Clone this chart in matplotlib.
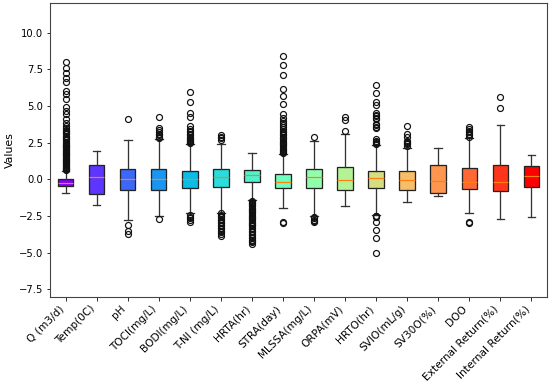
import numpy as np
import matplotlib
matplotlib.use('Agg')
import matplotlib.pyplot as plt

labels = ['Q (m3/d)', 'Temp(0C)', 'pH', 'TOCI(mg/L)', 'BODI(mg/L)', 'T-NI (mg/L)',
          'HRTA(hr)', 'STRA(day)', 'MLSSA(mg/L)', 'ORPA(mV)', 'HRTO(hr)', 'SVIO(mL/g)',
          'SV30O(%)', 'DOO', 'External Return(%)', 'Internal Return(%)']

med = [-0.27, 0.14, 0.04, 0.04, 0.0, 0.14, 0.27, -0.18, 0.14, -0.05, 0.07, -0.05, -0.14, -0.16, -0.18, 0.25]
q1 = [-0.46, -0.98, -0.75, -0.70, -0.61, -0.50, -0.20, -0.57, -0.57, -0.71, -0.61, -0.73, -0.91, -0.68, -0.82, -0.55]
q3 = [0.0, 0.95, 0.68, 0.68, 0.59, 0.70, 0.65, 0.36, 0.72, 0.86, 0.59, 0.55, 0.95, 0.79, 1.0, 0.89]
whislo = [-0.91, -1.77, -2.80, -2.50, -2.32, -2.27, -1.40, -1.93, -2.50, -1.82, -2.43, -1.55, -1.14, -2.27, -2.70, -2.59]
whishi = [0.55, 1.93, 2.68, 2.73, 2.40, 2.40, 1.79, 1.70, 2.61, 3.07, 2.34, 2.11, 2.11, 2.79, 3.72, 1.64]

fliers = [
    # Q
    [0.62, 0.68, 0.74, 0.8, 0.86, 0.92, 0.98, 1.04, 1.1, 1.16, 1.22, 1.28, 1.34, 1.4, 1.46,
     1.52, 1.58, 1.64, 1.7, 1.76, 1.82, 1.88, 1.94, 2.0, 2.06, 2.12, 2.18, 2.24, 2.3, 2.36,
     2.42, 2.5, 2.58, 2.66, 2.74, 2.82, 2.9, 2.98, 3.06, 3.14, 3.22, 3.3, 3.35, 3.5, 3.62,
     3.86, 4.09, 4.43, 4.68, 4.91, 5.45, 5.81, 6.02, 6.65, 6.88, 7.23, 7.61, 8.02],
    # Temp
    [],
    # pH
    [4.09, -3.12, -3.5, -3.7],
    # TOCI
    [2.8, 2.9, 3.0, 3.1, 3.2, 3.35, 3.5, 4.27, -2.73],
    # BODI
    [2.45, 2.52, 2.6, 2.68, 2.76, 2.84, 2.92, 3.0, 3.1, 3.2, 3.3, 3.45, 3.63, 4.27, 4.5,
     5.29, 5.97, -2.43, -2.55, -2.65, -2.78, -2.89],
    # T-NI
    [2.7, 2.8, 2.9, 3.0, -2.3, -2.4, -2.5, -2.6, -2.7, -2.8, -2.9, -3.0, -3.1, -3.2, -3.3,
     -3.4, -3.5, -3.6, -3.75, -3.87],
    # HRTA
    [-1.45, -1.52, -1.6, -1.68, -1.76, -1.84, -1.92, -2.0, -2.08, -2.16, -2.24, -2.32, -2.4,
     -2.48, -2.56, -2.64, -2.72, -2.8, -2.88, -2.96, -3.04, -3.12, -3.2, -3.3, -3.4, -3.5,
     -3.6, -3.7, -3.8, -3.9, -4.0, -4.1, -4.2, -4.3, -4.41],
    # STRA
    [1.77, 1.84, 1.92, 2.0, 2.08, 2.16, 2.24, 2.32, 2.4, 2.48, 2.56, 2.64, 2.72, 2.8, 2.9,
     3.0, 3.1, 3.2, 3.3, 3.4, 3.55, 3.7, 3.85, 4.0, 4.2, 4.43, 5.11, 5.66, 6.16, 7.11, 7.81,
     8.43, -2.93, -2.95],
    # MLSSA
    [2.86, -2.58, -2.66, -2.74, -2.82, -2.9],
    # ORPA
    [3.29, 4.04, 4.27],
    # HRTO
    [2.4, 2.48, 2.56, 2.64, 2.72, 3.5, 3.6, 3.7, 3.8, 4.1, 4.2, 4.3, 4.4, 4.5, 5.06, 5.3,
     5.86, 6.43, -2.47, -2.52, -2.58, -2.93, -3.46, -4.02, -5.04],
    # SVIO
    [2.3, 2.38, 2.46, 2.54, 2.6, 2.9, 3.1, 3.63],
    # SV30O
    [],
    # DOO
    [2.9, 3.0, 3.1, 3.2, 3.3, 3.45, 3.6, -2.93, -2.96],
    # External Return
    [4.86, 5.63],
    # Internal Return
    [],
]

stats = []
for i in range(len(labels)):
    stats.append({'med': med[i], 'q1': q1[i], 'q3': q3[i],
                  'whislo': whislo[i], 'whishi': whishi[i],
                  'fliers': np.array(fliers[i])})

colors = plt.cm.rainbow(np.linspace(0, 1, len(labels)))

fig = plt.figure(figsize=(550 / 72, 387 / 72), dpi=72)
ax = fig.add_axes([0.0909, 0.2333, 0.9036, 0.7581])

lw = 1.3
bp = ax.bxp(stats, patch_artist=True, widths=0.5,
            boxprops=dict(linewidth=lw, edgecolor='#222222'),
            whiskerprops=dict(linewidth=lw, color='#333333'),
            capprops=dict(linewidth=lw, color='#333333'),
            medianprops=dict(linewidth=1.2, color='#ff7f0e'),
            flierprops=dict(marker='o', markersize=6, markeredgewidth=1.2,
                            markeredgecolor='#111111', markerfacecolor='none'))
for patch, c in zip(bp['boxes'], colors):
    patch.set_facecolor(c)

ax.set_xticks(range(1, len(labels) + 1))
ax.set_xticklabels(labels, rotation=45, ha='right', fontsize=10.5)
ax.tick_params(axis='y', labelsize=10)
ax.set_ylim(-8, 12)
ax.set_xlim(0.5, len(labels) + 0.5)
ax.set_ylabel('Values', fontsize=11)
for s in ax.spines.values():
    s.set_color('#444444')
    s.set_linewidth(1.1)

fig.savefig('out.png', dpi=72)
